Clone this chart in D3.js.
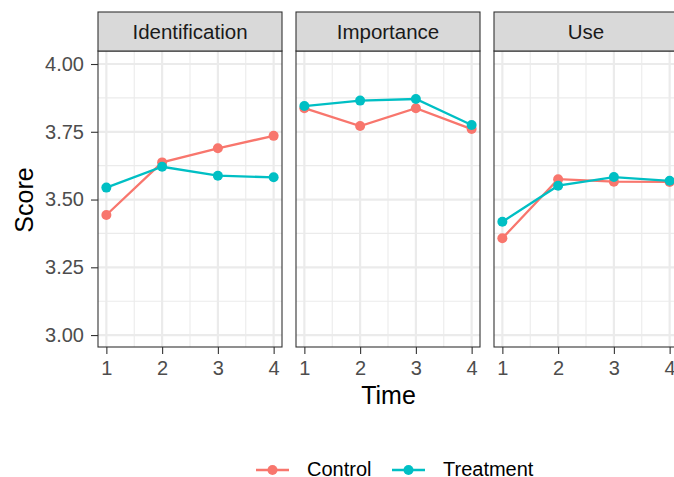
<!DOCTYPE html>
<html lang="en">
<head>
  <meta charset="utf-8" />
  <title>Score by time</title>
  <style>
    body {
      margin: 0;
      background: #fff;
      font-family: "Liberation Sans", Arial, sans-serif;
    }
  </style>
</head>
<body>
  <div id="graphic"></div>

  <script src="https://cdn.jsdelivr.net/npm/d3@7"></script>
  <script>
    // data
    var times = [1, 2, 3, 4];
    var facets = ["Identification", "Importance", "Use"];
    var groups = ["Control", "Treatment"];
    var controlScores = [
      [3.443, 3.637, 3.689, 3.735],
      [3.837, 3.771, 3.837, 3.760],
      [3.357, 3.575, 3.566, 3.565]
    ];
    var treatmentScores = [
      [3.544, 3.621, 3.588, 3.582],
      [3.845, 3.865, 3.871, 3.775],
      [3.418, 3.551, 3.583, 3.569]
    ];
    var yTicks = [3.00, 3.25, 3.50, 3.75, 4.00];
    var yMinor = [3.125, 3.375, 3.625, 3.875];
    var xMinor = [1.5, 2.5, 3.5];
    var colours = ["#F8766D", "#00BFC4"];

    var width = 674, height = 477;
    var panel = { left: 98, width: 184, gap: 14, top: 51, bottom: 347, stripTop: 12 };
    var font = "'Liberation Sans', Arial, sans-serif";

    var svg = d3.select("#graphic")
      .append("svg")
      .attr("width", width)
      .attr("height", height)
      .style("font-family", font);

    var x = d3.scaleLinear()
      .domain([0.85, 4.15])
      .range([0, panel.width]);

    var y = d3.scaleLinear()
      .domain([2.956, 4.048])
      .range([panel.bottom, panel.top]);

    var colour = d3.scaleOrdinal().domain(groups).range(colours);

    var line = d3.line()
      .x(function(d) { return x(d.time); })
      .y(function(d) { return y(d.score); });

    facets.forEach(function(facet, fi) {
      var g = svg.append("g")
        .attr("transform", "translate(" + (panel.left + fi * (panel.width + panel.gap)) + ",0)");

      // minor grid
      g.selectAll("line.ymin").data(yMinor).enter().append("line")
        .attr("x1", 0).attr("x2", panel.width)
        .attr("y1", y).attr("y2", y)
        .attr("stroke", "#EBEBEB").attr("stroke-width", 1.1);
      g.selectAll("line.xmin").data(xMinor).enter().append("line")
        .attr("x1", x).attr("x2", x)
        .attr("y1", panel.top).attr("y2", panel.bottom)
        .attr("stroke", "#EBEBEB").attr("stroke-width", 1.1);

      // major grid
      g.selectAll("line.ymaj").data(yTicks).enter().append("line")
        .attr("x1", 0).attr("x2", panel.width)
        .attr("y1", y).attr("y2", y)
        .attr("stroke", "#EBEBEB").attr("stroke-width", 2.2);
      g.selectAll("line.xmaj").data(times).enter().append("line")
        .attr("x1", x).attr("x2", x)
        .attr("y1", panel.top).attr("y2", panel.bottom)
        .attr("stroke", "#EBEBEB").attr("stroke-width", 2.2);

      var series = [controlScores[fi], treatmentScores[fi]].map(function(vals, gi) {
        return {
          group: groups[gi],
          values: vals.map(function(v, i) { return { time: times[i], score: v }; })
        };
      });

      series.forEach(function(s) {
        g.append("path")
          .datum(s.values)
          .attr("d", line)
          .attr("fill", "none")
          .attr("stroke", colour(s.group))
          .attr("stroke-width", 2.3);
        g.selectAll(null).data(s.values).enter().append("circle")
          .attr("cx", function(d) { return x(d.time); })
          .attr("cy", function(d) { return y(d.score); })
          .attr("r", 5)
          .attr("fill", colour(s.group));
      });

      // panel border
      g.append("rect")
        .attr("x", 0).attr("y", panel.top)
        .attr("width", panel.width).attr("height", panel.bottom - panel.top)
        .attr("fill", "none").attr("stroke", "#333333").attr("stroke-width", 1.1);

      // strip
      g.append("rect")
        .attr("x", 0).attr("y", panel.stripTop)
        .attr("width", panel.width).attr("height", panel.top - panel.stripTop)
        .attr("fill", "#D9D9D9").attr("stroke", "#333333").attr("stroke-width", 1.1);
      g.append("text")
        .attr("x", panel.width / 2).attr("y", 39)
        .attr("text-anchor", "middle")
        .attr("font-size", 20.5)
        .attr("fill", "#1A1A1A")
        .text(facet);

      // x axis
      var xAxis = d3.axisBottom(x).tickValues(times).tickFormat(d3.format("d")).tickSize(7).tickPadding(6.5);
      var ax = g.append("g")
        .attr("transform", "translate(0," + panel.bottom + ")")
        .call(xAxis);
      ax.select(".domain").remove();
      ax.selectAll("line").attr("stroke", "#333333").attr("stroke-width", 1.1);
      ax.selectAll("text").attr("font-size", 20).attr("fill", "#4D4D4D")
        .attr("font-family", font);

      if (fi === 0) {
        var yAxis = d3.axisLeft(y).tickValues(yTicks).tickFormat(d3.format(".2f")).tickSize(7).tickPadding(7);
        var ay = g.append("g").call(yAxis);
        ay.select(".domain").remove();
        ay.selectAll("line").attr("stroke", "#333333").attr("stroke-width", 1.1);
        ay.selectAll("text").attr("font-size", 20).attr("fill", "#4D4D4D")
          .attr("font-family", font);
      }
    });

    // axis titles
    svg.append("text")
      .attr("x", 388.5).attr("y", 404)
      .attr("text-anchor", "middle")
      .attr("font-size", 25)
      .text("Time");

    svg.append("text")
      .attr("transform", "translate(33,200) rotate(-90)")
      .attr("text-anchor", "middle")
      .attr("font-size", 25)
      .text("Score");

    // legend
    var legend = svg.append("g").attr("class", "legend");
    var keyX = [256, 392];
    groups.forEach(function(gname, i) {
      var k = legend.append("g").attr("transform", "translate(" + keyX[i] + ",470)");
      k.append("line").attr("x1", 0).attr("x2", 33).attr("y1", 0).attr("y2", 0)
        .attr("stroke", colour(gname)).attr("stroke-width", 2.3);
      k.append("circle").attr("cx", 16.5).attr("cy", 0).attr("r", 5).attr("fill", colour(gname));
      k.append("text").attr("x", 51).attr("y", 6)
        .attr("font-size", 20).attr("fill", "#000")
        .text(gname);
    });
  </script>
</body>
</html>
